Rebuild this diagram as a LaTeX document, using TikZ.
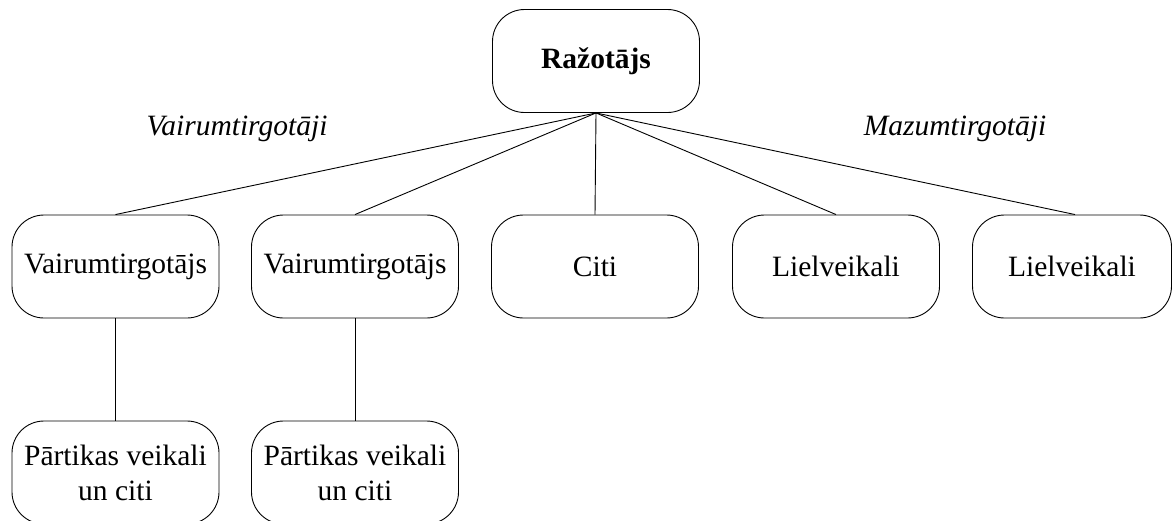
\documentclass[tikz,border=0pt]{standalone}
\usepackage{fontspec}
\setmainfont{Liberation Serif}
\begin{document}
\begin{tikzpicture}[x=1pt,y=-1pt,
  box/.style={draw,line width=0.9pt,rounded corners=32pt,minimum width=207pt,minimum height=103pt,
    inner sep=0pt,align=center,font=\fontsize{29.5}{35}\selectfont},
  lbl/.style={font=\fontsize{29.5}{35}\selectfont\itshape,anchor=base,inner sep=0pt},
  link/.style={line width=0.9pt}]
\useasboundingbox (0,0) rectangle (1172,520);
\clip (0,0) rectangle (1172,520);
\node[box,font=\fontsize{29.5}{35}\selectfont\bfseries] (top) at (596,61) {Ražotājs};
\node[box] (v1) at (115.5,266.5) {Vairumtirgotājs};
\node[box] (v2) at (355,266.5) {Vairumtirgotājs};
\node[box] (c) at (595,266.5) {Citi};
\node[box] (l1) at (836,266.5) {Lielveikali};
\node[box,minimum width=199pt] (l2) at (1072,266.5) {Lielveikali};
\node[box] (p1) at (115.5,472.5) {Pārtikas veikali\\un citi};
\node[box] (p2) at (355,472.5) {Pārtikas veikali\\un citi};
\node[lbl] (wl) at (237,135) {Vairumtirgotāji};
\node[lbl] (ml) at (955,135) {Mazumtirgotāji};
\draw[link] (top.south) -- (v1.north);
\draw[link] (top.south) -- (v2.north);
\draw[link] (top.south) -- (c.north);
\draw[link] (top.south) -- (l1.north);
\draw[link] (top.south) -- ([xshift=3pt]l2.north);
\draw[link] (v1.south) -- (p1.north);
\draw[link] (v2.south) -- (p2.north);
\end{tikzpicture}
\end{document}
